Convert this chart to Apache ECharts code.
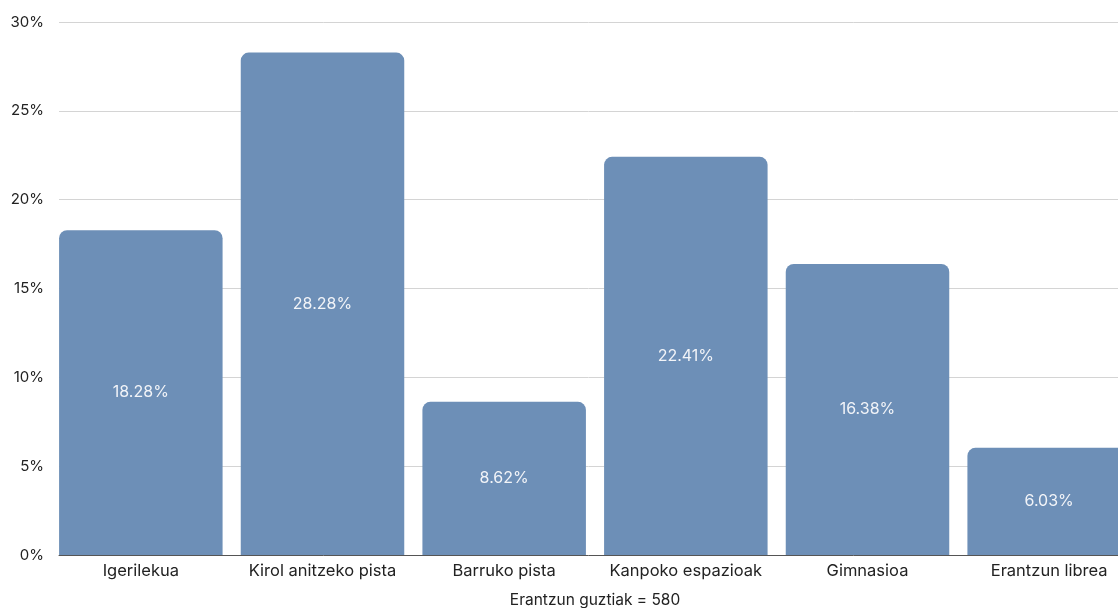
<!DOCTYPE html>
<html>
<head>
<meta charset="utf-8">
<script src="https://cdn.jsdelivr.net/npm/echarts@6/dist/echarts.min.js"></script>
<style>html,body{margin:0;padding:0;background:#fff;}#c{width:1118px;height:608px;}</style>
</head>
<body>
<div id="c"></div>
<script>
const categories = ["Igerilekua", "Kirol anitzeko pista", "Barruko pista", "Kanpoko espazioak", "Gimnasioa", "Erantzun librea"];
const values = [18.28, 28.28, 8.62, 22.41, 16.38, 6.03];
const axisName = "Erantzun guztiak = 580";

const chart = echarts.init(document.getElementById('c'), null, {renderer: 'canvas'});
chart.setOption({
  animation: false,
  textStyle: {fontFamily: 'Inter, "Noto Sans", sans-serif'},
  grid: [
    {left: 50, width: 1090, top: 22, height: 533, containLabel: false, outerBoundsMode: 'none'},
    {left: 59, width: 1059, top: 22, height: 533, containLabel: false, outerBoundsMode: 'none'}
  ],
  xAxis: [{
    type: 'category',
    gridIndex: 0,
    data: categories,
    name: axisName,
    nameLocation: 'middle',
    nameGap: 37,
    nameTextStyle: {color: '#222', fontSize: 15.5},
    axisTick: {show: false},
    axisLine: {show: false},
    axisLabel: {color: '#222', fontSize: 16.5, margin: 8, interval: 0}
  }, {
    type: 'category',
    gridIndex: 1,
    data: categories,
    axisTick: {show: false},
    axisLabel: {show: false},
    axisLine: {lineStyle: {color: '#555', width: 1}}
  }],
  yAxis: [{
    type: 'value',
    gridIndex: 0,
    min: 0, max: 30, interval: 5,
    axisLabel: {formatter: '{value}%', color: '#222', fontSize: 15, margin: 6},
    splitLine: {show: false},
    axisLine: {show: false},
    axisTick: {show: false}
  }, {
    type: 'value',
    gridIndex: 1,
    min: 0, max: 30, interval: 5,
    axisLabel: {show: false},
    splitLine: {lineStyle: {color: '#d4d4d4', width: 1}},
    axisLine: {show: false},
    axisTick: {show: false}
  }],
  series: [{
    type: 'bar',
    xAxisIndex: 0,
    yAxisIndex: 0,
    data: values,
    barWidth: '90%',
    itemStyle: {color: '#6d8fb7', borderRadius: [8, 8, 0, 0]},
    label: {
      show: true,
      position: 'inside',
      color: '#f2f4f8',
      fontSize: 16,
      formatter: p => p.value.toFixed(2) + '%'
    }
  }]
});
</script>
</body>
</html>
